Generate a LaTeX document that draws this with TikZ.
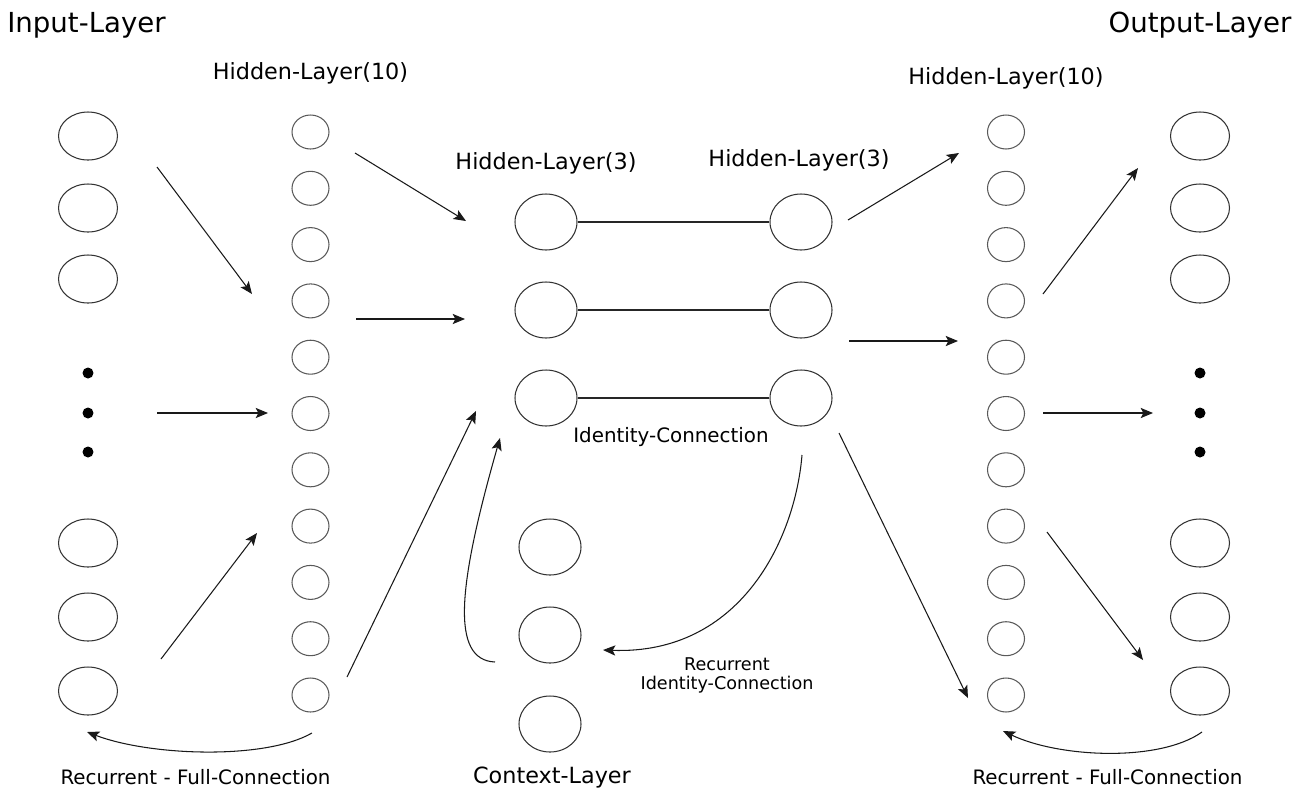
\documentclass[tikz,border=0pt]{standalone}
\usepackage{fontspec}
\setmainfont{DejaVu Sans}
\usetikzlibrary{shapes.geometric,arrows.meta}
\begin{document}
\begin{tikzpicture}[x=0.02cm,y=-0.02cm,
  bigunit/.style={ellipse,draw=black!80,line width=0.6pt,inner sep=0pt,minimum width=1.18cm,minimum height=0.96cm},
  smallunit/.style={ellipse,draw=black!65,line width=0.6pt,inner sep=0pt,minimum width=0.74cm,minimum height=0.68cm},
  midunit/.style={ellipse,draw=black!80,line width=0.6pt,inner sep=0pt,minimum width=1.24cm,minimum height=1.12cm},
  dotunit/.style={circle,fill=black,inner sep=0pt,minimum size=0.22cm},
  flow/.style={line width=0.6pt,black!90,-{Stealth[length=7pt,width=5.8pt,inset=1.5pt]}},
  link/.style={line width=0.6pt,black!85},
  layertitle/.style={font=\fontsize{15.7}{18}\selectfont,inner sep=0pt},
  layerlabel/.style={font=\fontsize{12.7}{15}\selectfont,inner sep=0pt},
  linknote/.style={font=\fontsize{11.3}{13}\selectfont,inner sep=0pt},
  smallnote/.style={font=\fontsize{10}{10.8}\selectfont,inner sep=0pt,align=center}
]
\useasboundingbox (0,0) rectangle (1309,789);

% input and output layers: three units, ellipsis dots, three units
\foreach \y [count=\i] in {136,208,279,543,617,691} {
  \node[bigunit] (in\i) at (88,\y) {};
  \node[bigunit] (out\i) at (1200,\y) {};
}
\foreach \y [count=\i] in {373,413,452} {
  \node[dotunit] (indot\i) at (88,\y) {};
  \node[dotunit] (outdot\i) at (1200,\y) {};
}

% wide hidden layers
\foreach \i in {1,...,11} {
  \node[smallunit] (hl\i) at (310.5,{132+56.3*(\i-1)}) {};
  \node[smallunit] (hr\i) at (1006,{132+56.3*(\i-1)}) {};
}

% bottleneck layers joined by identity connections
\foreach \y [count=\i] in {222,310,398} {
  \node[midunit] (al\i) at (546,\y) {};
  \node[midunit] (ar\i) at (801,\y) {};
  \draw[link] (al\i) -- (ar\i);
}

% context layer
\foreach \y [count=\i] in {547,635,724} {
  \node[midunit] (ctx\i) at (550,\y) {};
}

% labels
\node[layertitle] (tin) at (86.5,25) {Input-Layer};
\node[layertitle] (tout) at (1200,25) {Output-Layer};
\node[layerlabel] (thl) at (310.5,73) {Hidden-Layer(10)};
\node[layerlabel] (thr) at (1006,78) {Hidden-Layer(10)};
\node[layerlabel] (tal) at (546,163) {Hidden-Layer(3)};
\node[layerlabel] (tar) at (799,160) {Hidden-Layer(3)};
\node[linknote] (tid) at (671,437) {Identity-Connection};
\node[layerlabel] (tctx) at (552,778) {Context-Layer};
\node[linknote] (trl) at (195.5,777) {Recurrent - Full-Connection};
\node[linknote] (trr) at (1107.5,777) {Recurrent - Full-Connection};
\node[smallnote] (trid) at (727,675) {Recurrent\\Identity-Connection};

% arrow end points
\coordinate (a1s) at (157,167);  \coordinate (a1e) at (252,294);
\coordinate (a2s) at (157,413);  \coordinate (a2e) at (268,413);
\coordinate (a3s) at (161,659);  \coordinate (a3e) at (257,533);
\coordinate (b1s) at (355,153);  \coordinate (b1e) at (466,221);
\coordinate (b2s) at (356,319);  \coordinate (b2e) at (465,319);
\coordinate (b3s) at (347,677);  \coordinate (b3e) at (476,411);
\coordinate (b4s) at (495,662);  \coordinate (b4e) at (500,438);
\coordinate (c1s) at (848,220);  \coordinate (c1e) at (959,153);
\coordinate (c2s) at (849,341);  \coordinate (c2e) at (958,341);
\coordinate (c3s) at (839,433);  \coordinate (c3e) at (968,698);
\coordinate (c4s) at (802,455);  \coordinate (c4e) at (603,650);
\coordinate (d1s) at (1043,294); \coordinate (d1e) at (1138,168);
\coordinate (d2s) at (1043,413); \coordinate (d2e) at (1153,413);
\coordinate (d3s) at (1047,532); \coordinate (d3e) at (1143,660);
\coordinate (rls) at (312,733);  \coordinate (rle) at (87,732);
\coordinate (rrs) at (1202,732); \coordinate (rre) at (1003,731);

% feed-forward connections
\draw[flow] (a1s) -- (a1e);
\draw[flow] (a2s) -- (a2e);
\draw[flow] (a3s) -- (a3e);
\draw[flow] (b1s) -- (b1e);
\draw[flow] (b2s) -- (b2e);
\draw[flow] (b3s) -- (b3e);
\draw[flow] (c1s) -- (c1e);
\draw[flow] (c2s) -- (c2e);
\draw[flow] (c3s) -- (c3e);
\draw[flow] (d1s) -- (d1e);
\draw[flow] (d2s) -- (d2e);
\draw[flow] (d3s) -- (d3e);

% recurrent connections
\draw[flow] (b4s) .. controls (450,660) and (458,585) .. (b4e);
\draw[flow] (c4s) .. controls (795,540) and (740,655) .. (c4e);
\draw[flow] (rls) .. controls (265,760) and (150,756) .. (rle);
\draw[flow] (rrs) .. controls (1160,762) and (1060,758) .. (rre);
\end{tikzpicture}
\end{document}
